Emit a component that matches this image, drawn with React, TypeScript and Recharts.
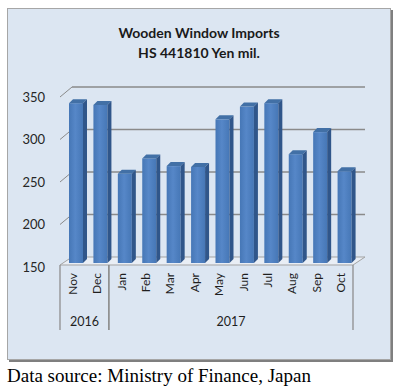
import React from "react";
import { BarChart, Bar, XAxis, YAxis, CartesianGrid } from "recharts";

const months = ["Nov", "Dec", "Jan", "Feb", "Mar", "Apr", "May", "Jun", "Jul", "Aug", "Sep", "Oct"];
const years = ["2016", "2016", "2017", "2017", "2017", "2017", "2017", "2017", "2017", "2017", "2017", "2017"];
const imports = [338, 336, 255, 273, 264, 263, 319, 334, 338, 278, 304, 258];
const yTicks = [150, 200, 250, 300, 350];

const data = months.map((m, i) => ({ month: m, year: years[i], value: imports[i] }));

const FONT = "Lato, 'Open Sans', sans-serif";
const DEPTH = 4;
const BACK_DX = 8;
const BACK_DY = -6;

function Bar3D(props: any) {
  const { x, y, width, height } = props;
  if (height == null || height <= 0) return null;
  const d = DEPTH;
  return (
    <g>
      <rect x={x} y={y} width={width} height={height} fill="url(#barFront)" />
      <polygon
        points={`${x},${y} ${x + d},${y - d} ${x + width + d},${y - d} ${x + width},${y}`}
        fill="#4270a6"
      />
      <polygon
        points={`${x + width},${y} ${x + width + d},${y - d} ${x + width + d},${y + height - d} ${x + width},${y + height}`}
        fill="#30568a"
      />
    </g>
  );
}

function GridLine(props: any) {
  const { x1, x2, y1, y, height } = props;
  const bottom = y + height;
  if (Math.abs(y1 - bottom) < 1) {
    // the floor of the 3D plot
    return (
      <g>
        <polygon
          points={`${x1 - 4},${y1 + 2} ${x2 - 4},${y1 + 2} ${x2 + BACK_DX},${y1 + BACK_DY} ${x1 + BACK_DX},${y1 + BACK_DY}`}
          fill="#e9eef5"
          stroke="#a3a3a3"
          strokeWidth={1}
        />
      </g>
    );
  }
  return (
    <g>
      <line x1={x1 + BACK_DX} x2={x2 + BACK_DX} y1={y1 + BACK_DY} y2={y1 + BACK_DY} stroke="#8a8a8a" strokeWidth={1.7} />
      <line x1={x1 - 4} x2={x1 + BACK_DX} y1={y1 + 4} y2={y1 + BACK_DY} stroke="#8a8a8a" strokeWidth={1} />
    </g>
  );
}

function YTick({ y, payload }: any) {
  return (
    <text x={45} y={y + 4} dy={4.5} textAnchor="end" fontSize={13} fontFamily={FONT} fill="#262626">
      {payload.value}
    </text>
  );
}

function MonthTick({ x, payload, index }: any) {
  const cx = x - 4;
  const band = 293 / months.length;
  const top = 265;
  const bottom = 330;
  const items: React.ReactNode[] = [];
  items.push(
    <text
      key="m"
      x={cx}
      y={273}
      transform={`rotate(-90, ${cx}, 273)`}
      textAnchor="end"
      dominantBaseline="central"
      fontSize={12}
      fontFamily={FONT}
      fill="#1f1f1f"
    >
      {payload.value}
    </text>
  );
  const yr = years[index];
  const prev = index > 0 ? years[index - 1] : null;
  const next = index < years.length - 1 ? years[index + 1] : null;
  if (yr !== prev) {
    items.push(<line key="l" x1={cx - band / 2} x2={cx - band / 2} y1={top} y2={bottom} stroke="#8e8e8e" strokeWidth={1.3} />);
  }
  if (yr !== next) {
    items.push(<line key="r" x1={cx + band / 2} x2={cx + band / 2} y1={top} y2={bottom} stroke="#8e8e8e" strokeWidth={1.3} />);
    const count = years.filter((v) => v === yr).length;
    const center = cx + band / 2 - (count * band) / 2;
    items.push(
      <text key="y" x={center} y={326} textAnchor="middle" fontSize={12.5} fontFamily={FONT} fill="#1f1f1f">
        {yr}
      </text>
    );
  }
  return <g>{items}</g>;
}

export default function App() {
  return (
    <div style={{ position: "absolute", left: 0, top: 0, width: 406, height: 390, background: "#fff" }}>
      <div
        style={{
          position: "absolute",
          left: 7,
          top: 8,
          width: 382,
          height: 350,
          background: "#dce6f2",
          border: "1px solid #a6a6a6",
          boxShadow: "2px 2px 0 #7f7f7f",
        }}
      />
      <svg width={406} height={390} style={{ position: "absolute", left: 0, top: 0 }}>
        <text x={199} y={38} textAnchor="middle" fontSize={14} fontWeight="bold" fontFamily={FONT} fill="#1a1a1a">
          Wooden Window Imports
        </text>
        <text x={199} y={58} textAnchor="middle" fontSize={14} fontWeight="bold" fontFamily={FONT} fill="#1a1a1a">
          HS 441810 Yen mil.
        </text>
        <text x={7} y={382} fontSize={19} fontFamily="'Liberation Serif', 'Times New Roman', serif" fill="#000">
          Data source: Ministry of Finance, Japan
        </text>
      </svg>
      <div style={{ position: "absolute", left: 0, top: 0 }}>
        <BarChart width={406} height={390} data={data} margin={{ top: 93, right: 49, bottom: 67, left: 24 }}>
          <defs>
            <linearGradient id="barFront" x1="0" y1="0" x2="1" y2="0">
              <stop offset="0%" stopColor="#4677b6" />
              <stop offset="45%" stopColor="#5687c8" />
              <stop offset="100%" stopColor="#4677b6" />
            </linearGradient>
          </defs>
          <CartesianGrid vertical={false} horizontal={GridLine as any} />
          <XAxis dataKey="month" height={60} tick={MonthTick as any} tickLine={false} axisLine={false} interval={0} />
          <YAxis
            domain={[150, 350]}
            ticks={yTicks}
            width={40}
            tick={YTick as any}
            tickLine={false}
            axisLine={false}
            allowDataOverflow
          />
          <Bar dataKey="value" barSize={14} shape={Bar3D} isAnimationActive={false} />
        </BarChart>
      </div>
    </div>
  );
}
